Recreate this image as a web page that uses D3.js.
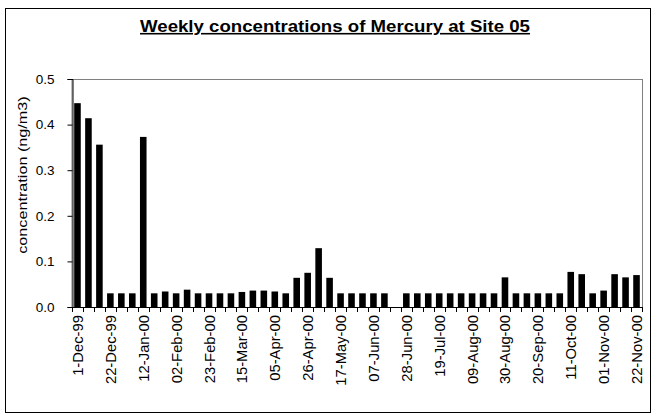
<!DOCTYPE html>
<html><head><meta charset="utf-8">
<script src="https://cdn.jsdelivr.net/npm/d3@7"></script>
<style>
html,body{margin:0;padding:0;background:#fff;}
text{font-family:"Liberation Sans",Arial,sans-serif;fill:#000;}
</style></head>
<body>
<svg id="chart" width="657" height="417"></svg>
<script>
const weeks = ["1-Dec-99","08-Dec-99","15-Dec-99","22-Dec-99","29-Dec-99","05-Jan-00","12-Jan-00","19-Jan-00","26-Jan-00","02-Feb-00",
"09-Feb-00","16-Feb-00","23-Feb-00","01-Mar-00","08-Mar-00","15-Mar-00","22-Mar-00","29-Mar-00","05-Apr-00","12-Apr-00",
"19-Apr-00","26-Apr-00","03-May-00","10-May-00","17-May-00","24-May-00","31-May-00","07-Jun-00","14-Jun-00","21-Jun-00",
"28-Jun-00","05-Jul-00","12-Jul-00","19-Jul-00","26-Jul-00","02-Aug-00","09-Aug-00","16-Aug-00","23-Aug-00","30-Aug-00",
"06-Sep-00","13-Sep-00","20-Sep-00","27-Sep-00","04-Oct-00","11-Oct-00","18-Oct-00","25-Oct-00","01-Nov-00","08-Nov-00",
"15-Nov-00","22-Nov-00"];
const mercury = [0.447,0.414,0.356,0.03,0.03,0.03,0.373,0.03,0.034,0.03,
0.038,0.03,0.03,0.03,0.03,0.033,0.036,0.036,0.034,0.03,
0.064,0.075,0.129,0.064,0.03,0.03,0.03,0.03,0.03,null,
0.03,0.03,0.03,0.03,0.03,0.03,0.03,0.03,0.03,0.065,
0.03,0.03,0.03,0.03,0.03,0.077,0.072,0.03,0.036,0.072,
0.065,0.07];
const yTicks = [0,0.1,0.2,0.3,0.4,0.5];
const titleText = "Weekly concentrations of Mercury at Site 05";
const yTitle = "concentration (ng/m3)";

const svg = d3.select("#chart");
const L = 72, R = 642, T = 79, B = 307;

// outer frame
svg.append("rect").attr("x",5.5).attr("y",8.5).attr("width",645).attr("height",404)
  .attr("fill","none").attr("stroke","#000").attr("stroke-width",1);

const x = d3.scaleBand().domain(weeks).range([L,R]).paddingInner(0.4).paddingOuter(0.2);
const y = d3.scaleLinear().domain([0,0.5]).range([B,T]);

// plot area border (gray)
svg.append("rect").attr("x",L).attr("y",T+0.5).attr("width",R-L+0.5).attr("height",B-T)
  .attr("fill","none").attr("stroke","#808080").attr("stroke-width",1);

// bars
svg.append("g").selectAll("rect").data(weeks.map((w,i)=>({w,v:mercury[i]})).filter(d=>d.v!=null))
  .join("rect")
  .attr("x",d=>x(d.w)).attr("width",x.bandwidth())
  .attr("y",d=>y(d.v)).attr("height",d=>B-y(d.v))
  .attr("fill","#000");

// y axis
const yAxis = d3.axisLeft(y).tickValues(yTicks).tickFormat(d3.format(".1f")).tickSize(5).tickPadding(13);
const gy = svg.append("g").attr("transform",`translate(${L+0.5},0)`).call(yAxis);
gy.selectAll("text").attr("font-size",13.5).attr("font-family","Liberation Sans, Arial, sans-serif");
gy.selectAll("line,path").attr("stroke","#000");

// x axis with ticks at band boundaries
const x0 = d3.scaleLinear().domain([0,weeks.length]).range([L,R]);
const gx = svg.append("g");
gx.append("line").attr("x1",L).attr("x2",R).attr("y1",B+0.5).attr("y2",B+0.5).attr("stroke","#000");
gx.selectAll("line.tk").data(d3.range(weeks.length+1)).join("line").attr("class","tk")
  .attr("x1",i=>Math.round(x0(i))+0.5).attr("x2",i=>Math.round(x0(i))+0.5)
  .attr("y1",B).attr("y2",B+5).attr("stroke","#000");
gx.selectAll("text").data(weeks.filter((w,i)=>i%3===0)).join("text")
  .attr("transform",w=>`translate(${x(w)+x.bandwidth()/2+5.5},${B+8}) rotate(-90)`)
  .attr("text-anchor","end").attr("font-size",14.8).text(w=>w);

// title
svg.append("text").attr("transform","translate(335,32) scale(1.18,1)").attr("text-anchor","middle")
  .attr("font-size",15.8).attr("font-weight","bold").attr("text-decoration","underline")
  .text(titleText);

// y title
svg.append("text").attr("transform",`translate(27,175) rotate(-90) scale(1.2,1)`)
  .attr("text-anchor","middle").attr("font-size",13.5).text(yTitle);
</script>
</body></html>
